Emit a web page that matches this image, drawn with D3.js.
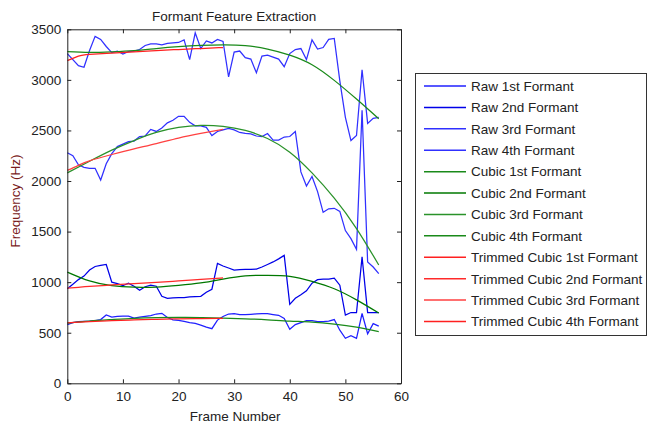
<!DOCTYPE html>
<html>
<head>
<meta charset="utf-8">
<script src="https://cdn.jsdelivr.net/npm/d3@7"></script>
<style>
  body { margin: 0; background: #fff; }
  text { font-family: "Liberation Sans", Arial, sans-serif; font-size: 13.5px; fill: #222; }
  .axis path, .axis line { stroke: #222; }
</style>
</head>
<body>
<svg id="chart" width="648" height="426"></svg>
<script>
const frames = d3.range(0, 57);
const fitFrames = [0, 4, 8, 12, 16, 20, 24, 28, 32, 36, 40, 44, 48, 52, 56];
const trimFrames = [0, 2, 4, 8, 12, 16, 20, 24, 28];

const xTicks = [0, 10, 20, 30, 40, 50, 60];
const yTicks = [0, 500, 1000, 1500, 2000, 2500, 3000, 3500];

const raw1 = [580, 600, 610, 612, 615, 620, 630, 675, 655, 662, 665, 665, 645, 655, 662, 670, 685, 692, 650, 628,
  622, 612, 600, 592, 575, 555, 540, 625, 660, 685, 690, 680, 678, 682, 686, 690, 688, 680, 672, 640,
  534, 580, 600, 620, 620, 610, 610, 615, 630, 525, 445, 470, 445, 690, 490, 590, 565];
const raw2 = [935, 980, 1025, 1060, 1120, 1155, 1165, 1175, 1000, 985, 965, 990, 960, 920, 955, 970, 960, 860, 840, 845,
  847, 847, 855, 857, 860, 900, 930, 1185, 1160, 1140, 1120, 1125, 1127, 1127, 1130, 1150, 1175, 1200, 1230, 1265,
  780, 840, 875, 915, 990, 1025, 1030, 1030, 1040, 970, 675, 700, 700, 1250, 700, 700, 700];
const raw3 = [2280, 2250, 2160, 2135, 2126, 2126, 2010, 2170, 2270, 2340, 2365, 2390, 2395, 2440, 2445, 2510, 2490, 2525, 2575, 2600,
  2640, 2640, 2580, 2545, 2545, 2530, 2450, 2490, 2505, 2520, 2505, 2480, 2470, 2465, 2445, 2440, 2470, 2405, 2405, 2435,
  2440, 2490, 2090, 1950, 2045, 1895, 1690, 1725, 1730, 1700, 1510, 1430, 1325, 2700, 1200, 1150, 1085];
const raw4 = [3260, 3200, 3140, 3125, 3290, 3430, 3400, 3330, 3270, 3285, 3255, 3280, 3285, 3300, 3340, 3355, 3355, 3345, 3360, 3365,
  3370, 3395, 3200, 3465, 3310, 3385, 3365, 3400, 3380, 3030, 3275, 3285, 3220, 3205, 3070, 3235, 3245, 3225, 3205, 3130,
  3260, 3300, 3310, 3200, 3395, 3305, 3320, 3400, 3410, 2990, 2630, 2400, 2450, 3100, 2570, 2620, 2630];

const cubic1 = [595, 615, 630, 643, 650, 652, 650, 645, 638, 628, 615, 605, 585, 555, 512];
const cubic2 = [1100, 1012, 965, 950, 952, 968, 992, 1030, 1062, 1068, 1058, 1008, 935, 825, 695];
const cubic3 = [2080, 2195, 2305, 2400, 2480, 2530, 2550, 2540, 2500, 2420, 2285, 2080, 1830, 1530, 1170];
const cubic4 = [3280, 3272, 3278, 3290, 3310, 3328, 3340, 3345, 3338, 3305, 3245, 3150, 2995, 2810, 2615];

const trim1 = [598, 604, 610, 620, 627, 632, 637, 640, 642];
const trim2 = [940, 949, 958, 972, 985, 998, 1012, 1028, 1042];
const trim3 = [2105, 2155, 2200, 2262, 2318, 2370, 2425, 2470, 2510];
const trim4 = [3190, 3235, 3252, 3265, 3278, 3290, 3300, 3310, 3320];

const series = [
  { label: "Raw 1st Formant", x: frames, v: raw1, color: "#2020ff", raw: true },
  { label: "Raw 2nd Formant", x: frames, v: raw2, color: "#0000e8", raw: true },
  { label: "Raw 3rd Formant", x: frames, v: raw3, color: "#3030ff", raw: true },
  { label: "Raw 4th Formant", x: frames, v: raw4, color: "#3030ff", raw: true },
  { label: "Cubic 1st Formant", x: fitFrames, v: cubic1, color: "#1a8a1a" },
  { label: "Cubic 2nd Formant", x: fitFrames, v: cubic2, color: "#007800" },
  { label: "Cubic 3rd Formant", x: fitFrames, v: cubic3, color: "#2a922a" },
  { label: "Cubic 4th Formant", x: fitFrames, v: cubic4, color: "#1a8a1a" },
  { label: "Trimmed Cubic 1st Formant", x: trimFrames, v: trim1, color: "#ff2020" },
  { label: "Trimmed Cubic 2nd Formant", x: trimFrames, v: trim2, color: "#ff2a2a" },
  { label: "Trimmed Cubic 3rd Formant", x: trimFrames, v: trim3, color: "#ff4040" },
  { label: "Trimmed Cubic 4th Formant", x: trimFrames, v: trim4, color: "#ff2020" }
];

const svg = d3.select("#chart");
const plotL = 67.3, plotR = 401, plotT = 29.3, plotB = 383.3;

const x = d3.scaleLinear().domain([0, 60]).range([plotL, plotR]);
const y = d3.scaleLinear().domain([0, 3500]).range([plotB, plotT]);

svg.append("rect")
  .attr("x", plotL).attr("y", plotT)
  .attr("width", plotR - plotL).attr("height", plotB - plotT)
  .attr("fill", "#fff");

const plot = svg.append("g");
series.forEach(s => {
  const pts = s.x.map((f, i) => [f, s.v[i]]);
  const line = d3.line()
    .x(d => x(d[0]))
    .y(d => y(d[1]))
    .curve(s.raw ? d3.curveLinear : d3.curveNatural);
  plot.append("path")
    .datum(pts)
    .attr("d", line)
    .attr("fill", "none")
    .attr("stroke", s.color)
    .attr("stroke-width", 1.25);
});

// box with inward ticks on every side, matlab style
const tick = 4;
const fmt = d3.format("d");
svg.append("g").attr("class", "axis")
  .attr("transform", `translate(0,${plotB})`)
  .call(d3.axisBottom(x).tickValues(xTicks).tickFormat(fmt).tickSize(-tick).tickSizeOuter(0).tickPadding(8));
svg.append("g").attr("class", "axis")
  .attr("transform", `translate(0,${plotT})`)
  .call(d3.axisTop(x).tickValues(xTicks).tickSize(-tick).tickSizeOuter(0).tickFormat(""));
svg.append("g").attr("class", "axis")
  .attr("transform", `translate(${plotL},0)`)
  .call(d3.axisLeft(y).tickValues(yTicks).tickFormat(fmt).tickSize(-tick).tickSizeOuter(0).tickPadding(6));
svg.append("g").attr("class", "axis")
  .attr("transform", `translate(${plotR},0)`)
  .call(d3.axisRight(y).tickValues(yTicks).tickSize(-tick).tickSizeOuter(0).tickFormat(""));

svg.selectAll(".axis text")
  .style("font-family", '"Liberation Sans", Arial, sans-serif')
  .style("font-size", "13.5px")
  .attr("fill", "#222");

svg.append("text")
  .attr("x", (plotL + plotR) / 2).attr("y", 21)
  .attr("text-anchor", "middle")
  .text("Formant Feature Extraction");

svg.append("text")
  .attr("x", (plotL + plotR) / 2 + 1).attr("y", 421)
  .attr("text-anchor", "middle")
  .text("Frame Number");

svg.append("text")
  .attr("transform", "translate(20,201) rotate(-90)")
  .attr("text-anchor", "middle")
  .style("fill", "#7a1c1c")
  .text("Frequency (Hz)");

// legend
const lg = svg.append("g");
lg.append("rect")
  .attr("x", 415.5).attr("y", 73.5)
  .attr("width", 231).attr("height", 262)
  .attr("fill", "#fff")
  .attr("stroke", "#333");

const rowY = d3.scaleLinear().domain([0, 11]).range([86, 321.5]);
series.forEach((s, i) => {
  const yy = rowY(i);
  lg.append("line")
    .attr("x1", 424).attr("x2", 466)
    .attr("y1", yy).attr("y2", yy)
    .attr("stroke", s.color)
    .attr("stroke-width", 1.5);
  lg.append("text")
    .attr("x", 471).attr("y", yy)
    .attr("dy", "0.36em")
    .text(s.label);
});
</script>
</body>
</html>
